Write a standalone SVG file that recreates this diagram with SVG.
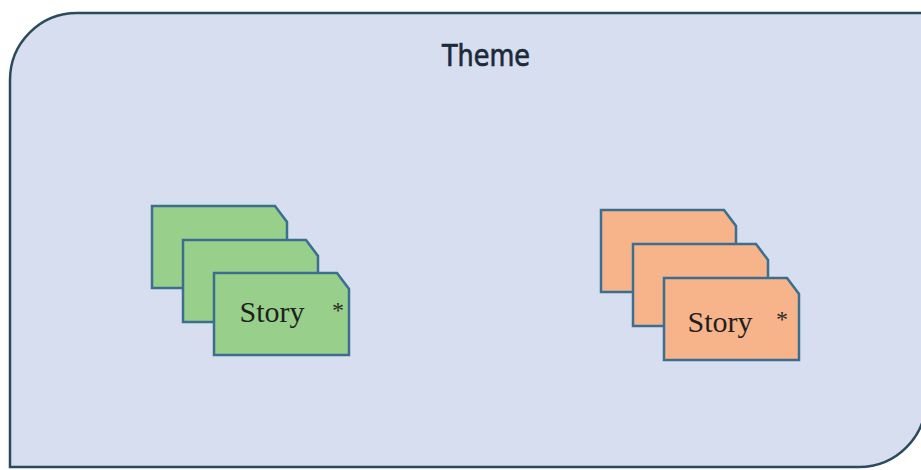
<svg xmlns="http://www.w3.org/2000/svg" width="921" height="470" viewBox="0 0 921 470">
<style>
.theme{fill:#d6deef;stroke:#2b4a5a;stroke-width:2.5}
.card{stroke:#3c6f8e;stroke-width:2.5}
.green{fill:#98cf8a}
.orange{fill:#f7b48b}
.lbl{font-family:"Liberation Serif","Times New Roman",serif;font-size:30px;fill:#1f1f1f}
.ast{font-family:"Liberation Serif","Times New Roman",serif;font-size:24px;fill:#2a2a2a}
.title{font-family:"DejaVu Sans",sans-serif;font-size:30px;fill:#1c2a38;stroke:#1c2a38;stroke-width:0.7}
</style>
<defs>
<path id="cardShape" d="M0,0 H123 L135,16 V82 H0 Z"/>
</defs>
<rect width="921" height="470" fill="#ffffff"/>
<g id="theme">
<path class="theme" d="M10,467 L10,80 A67,67 0 0 1 77,13 L926,13 L926,400 A67,67 0 0 1 859,467 Z"/>
<text class="title" x="486" y="66" text-anchor="middle" textLength="88" lengthAdjust="spacingAndGlyphs">Theme</text>
</g>
<g id="story-green">
<use href="#cardShape" class="card green" x="152" y="206"/>
<use href="#cardShape" class="card green" x="183" y="240"/>
<use href="#cardShape" class="card green" x="214" y="273"/>
<text class="lbl" x="272" y="322" text-anchor="middle">Story</text>
<text class="ast" x="338" y="318" text-anchor="middle">*</text>
</g>
<g id="story-orange">
<use href="#cardShape" class="card orange" x="601" y="210"/>
<use href="#cardShape" class="card orange" x="633" y="244"/>
<use href="#cardShape" class="card orange" x="664" y="278"/>
<text class="lbl" x="720" y="332" text-anchor="middle">Story</text>
<text class="ast" x="782" y="327" text-anchor="middle">*</text>
</g>
<g id="connectors"/>
</svg>
